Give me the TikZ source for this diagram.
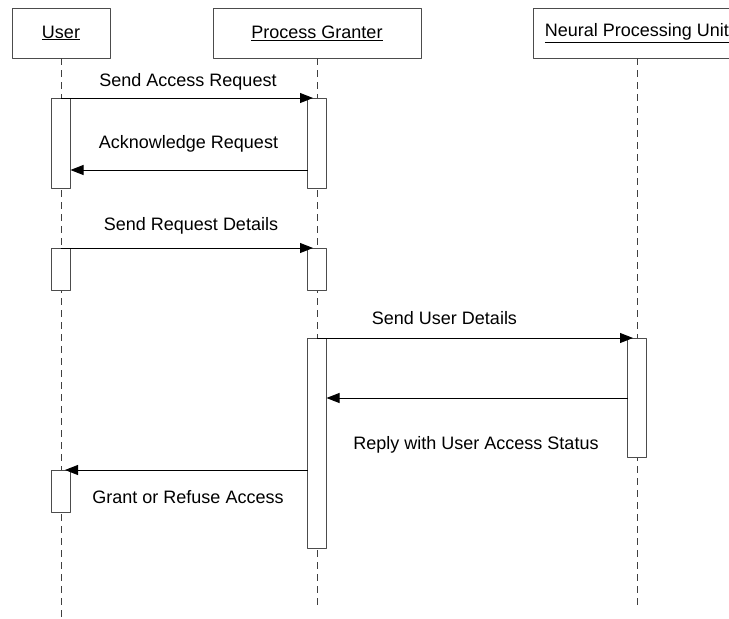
\documentclass[tikz,border=0pt]{standalone}
\usepackage{fontspec}
\setmainfont{Liberation Sans}
\usetikzlibrary{arrows.meta}
\begin{document}
\begin{tikzpicture}[x=1pt,y=-1pt,line join=round,font=\fontsize{18}{21}\selectfont,
		header/.style={draw=black!70,line width=0.9pt,minimum width=208pt,minimum height=50pt,inner sep=0pt,outer sep=0pt},
		act/.style={draw=black!70,fill=white,line width=0.9pt,minimum width=19pt,inner sep=0pt,outer sep=0pt,anchor=north},
		msg/.style={-{Triangle[length=13pt,width=10pt]},line width=0.9pt},
		life/.style={black!75,line width=0.9pt,dash pattern=on 7pt off 5pt},
		label/.style={anchor=base,inner sep=0pt}]
	\clip (0,0) rectangle (729,619);
	\fill[white] (0,0) rectangle (729,619);
	\node[header,minimum width=98pt] (user) at (61,33) {\raisebox{-2pt}{\underline{User}}};
	\node[header] (pg) at (317,33) {\raisebox{-2pt}{\underline{Process Granter}}};
	\node[header] (npu) at (637,33) {\raisebox{-2pt}{\underline{Neural Processing Unit}}};
	\coordinate (userend) at (61,619);
	\coordinate (pgend) at (317,608);
	\coordinate (npuend) at (637,608);
	\draw[life] (user) -- (userend);
	\draw[life] (pg) -- (pgend);
	\draw[life] (npu) -- (npuend);
	\node[act,minimum height=90pt] (ua1) at (61,98) {};
	\node[act,minimum height=90pt] (pa1) at (317,98) {};
	\node[act,minimum height=42pt] (ua2) at (61,248) {};
	\node[act,minimum height=42pt] (pa2) at (317,248) {};
	\node[act,minimum height=210pt] (pa3) at (317,338) {};
	\node[act,minimum height=119pt] (na) at (637,338) {};
	\node[act,minimum height=42pt] (ua3) at (61,470) {};
	\draw[msg] (ua1.north) -- ([xshift=-4pt]pa1.north);
	\draw[msg] ([yshift=-72pt]pa1.north west) -- ([yshift=-72pt]ua1.north east);
	\draw[msg] (ua2.north) -- ([xshift=-4pt]pa2.north);
	\draw[msg] (pa3.north) -- ([xshift=-4pt]na.north);
	\draw[msg] ([yshift=-60pt]na.north west) -- ([yshift=-60pt]pa3.north east);
	\draw[msg] ([yshift=-132pt]pa3.north west) -- ([xshift=4pt]ua3.north);
	\node[label] (sar) at (188,86) {Send Access Request};
	\node[label] (ackr) at (188.5,148) {Acknowledge Request};
	\node[label] (srd) at (191,230) {Send Request Details};
	\node[label] (sud) at (444.5,324) {Send User Details};
	\node[label] (rus) at (476,449) {Reply with User Access Status};
	\node[label] (gra) at (188,503) {Grant or Refuse Access};
\end{tikzpicture}
\end{document}
